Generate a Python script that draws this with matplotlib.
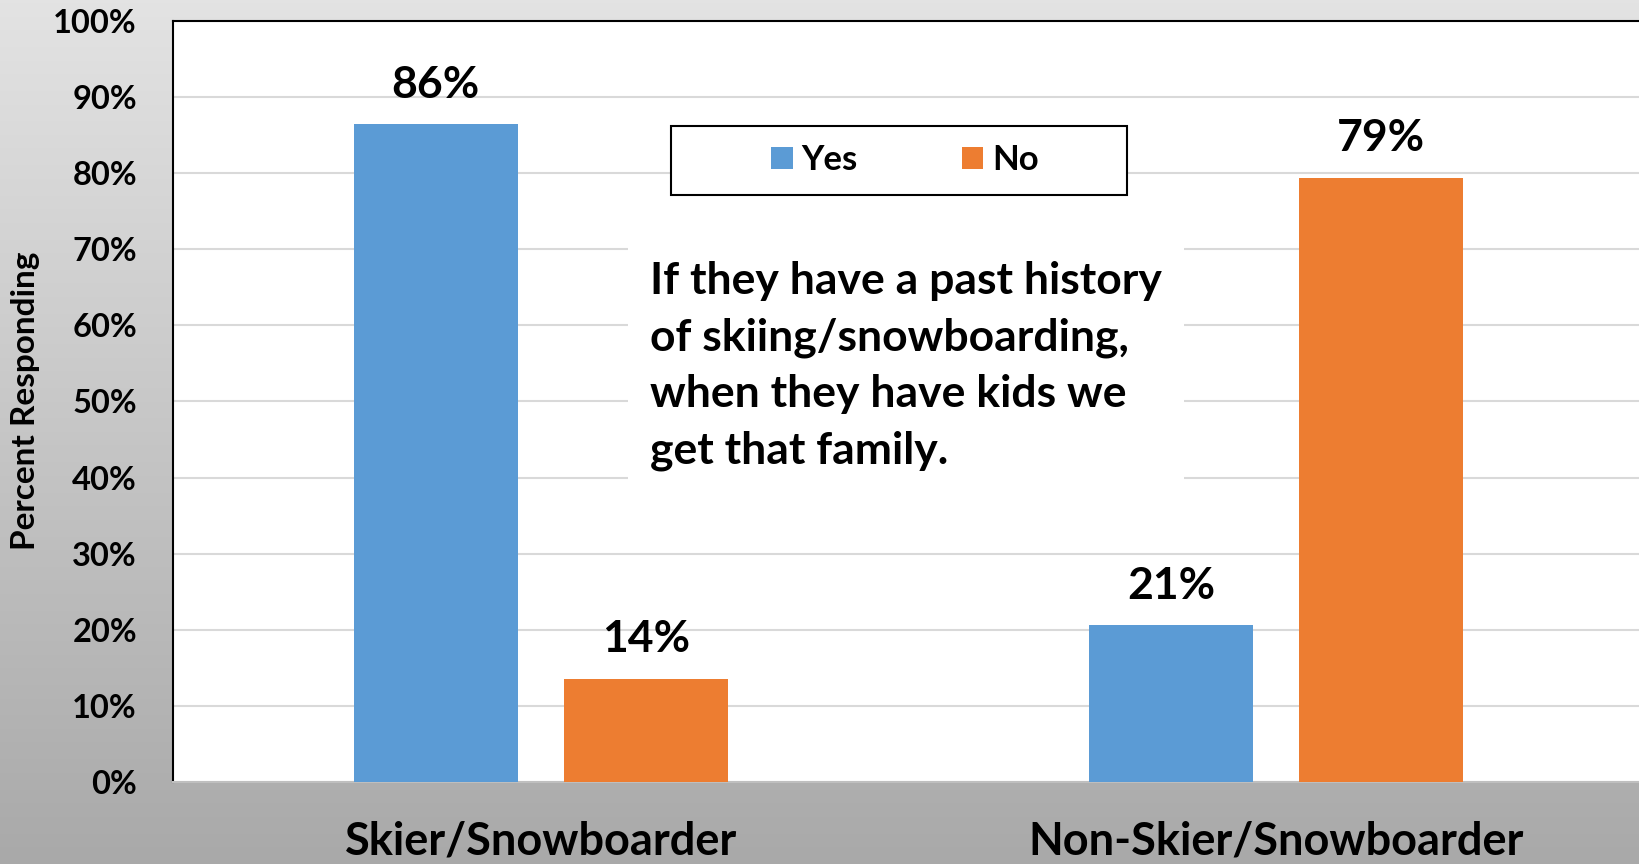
import numpy as np
import matplotlib
matplotlib.use("Agg")
import matplotlib.pyplot as plt
import matplotlib.patches as patches
from matplotlib.colors import LinearSegmentedColormap

groups = ["Skier/Snowboarder", "Non-Skier/Snowboarder"]
yes_vals = [86.4, 20.6]
no_vals = [13.6, 79.4]
yes_labels = ["86%", "21%"]
no_labels = ["14%", "79%"]
yticks = [0, 10, 20, 30, 40, 50, 60, 70, 80, 90, 100]
note = "If they have a past history\nof skiing/snowboarding,\nwhen they have kids we\nget that family."

plt.rcParams["font.family"] = ["Lato", "DejaVu Sans"]
plt.rcParams["font.weight"] = "bold"

W, H = 1639, 864
fig = plt.figure(figsize=(W / 100, H / 100), dpi=100)

# gray gradient background
bg = fig.add_axes([0, 0, 1, 1], zorder=-5)
cmap = LinearSegmentedColormap.from_list("bg", ["#e3e3e3", "#a9a9a9"])
grad = np.linspace(0, 1, 256).reshape(-1, 1)
bg.imshow(grad, aspect="auto", cmap=cmap, extent=[0, 1, 0, 1], origin="upper")
bg.axis("off")

left = 173 / W
bottom = (H - 782) / H
height = (782 - 21) / H
ax = fig.add_axes([left, bottom, 2 * 735.5 / W, height])
ax.set_facecolor("white")

x = np.arange(len(groups))
w = 0.223
off = 0.1428
b1 = ax.bar(x - off, yes_vals, w, color="#5b9bd5", label="Yes", zorder=3)
b2 = ax.bar(x + off, no_vals, w, color="#ed7d31", label="No", zorder=3)

for bars, labs in [(b1, yes_labels), (b2, no_labels)]:
    for r, t in zip(bars, labs):
        ax.annotate(t, (r.get_x() + r.get_width() / 2, r.get_height()),
                    xytext=(0, 14), textcoords="offset points",
                    ha="center", va="bottom", fontsize=32, fontweight="bold")

ax.set_xlim(-0.5, 1.5)
ax.set_ylim(0, 100)
ax.set_yticks(yticks)
ax.set_yticklabels([f"{v}%" for v in yticks], fontsize=23.5, fontweight="bold")
ax.set_xticks(x)
ax.set_xticklabels(groups, fontsize=32.5, fontweight="bold")
ax.tick_params(axis="y", length=0, pad=26)
ax.tick_params(axis="x", length=0, pad=28)
ax.yaxis.grid(True, color="#d9d9d9", lw=1.5, zorder=0)
ax.set_axisbelow(True)
ax.spines["right"].set_visible(False)
ax.spines["left"].set_color("black")
ax.spines["left"].set_linewidth(1.5)
ax.spines["top"].set_color("black")
ax.spines["top"].set_linewidth(1.5)
ax.spines["bottom"].set_color("#bfbfbf")
ax.spines["bottom"].set_linewidth(1.5)

fig.text(26 / W, 1 - 401 / H, "Percent Responding", rotation=90,
         ha="center", va="center", fontsize=24, fontweight="bold")

# note text box
fig.text(650 / W, 1 - 261 / H, note, ha="left", va="top", fontsize=32,
         fontweight="bold", linespacing=1.5,
         bbox=dict(boxstyle="square,pad=0.5", facecolor="white", edgecolor="none"))

# legend with a framed box
frame = patches.Rectangle((671 / W, 1 - 195 / H), (1127 - 671) / W, 69 / H,
                          transform=fig.transFigure, facecolor="white",
                          edgecolor="black", lw=1.5, zorder=10)
fig.patches.append(frame)
leg = fig.legend(handles=[b1, b2], labels=["Yes", "No"], loc="center",
                 bbox_to_anchor=(905 / W, 1 - 160 / H), ncol=2, frameon=False,
                 handlelength=0.62, handleheight=0.62,
                 handletextpad=0.25, columnspacing=3.0,
                 prop={"weight": "bold", "size": 25})
leg.set_zorder(11)

fig.savefig("out.png", dpi=100)
